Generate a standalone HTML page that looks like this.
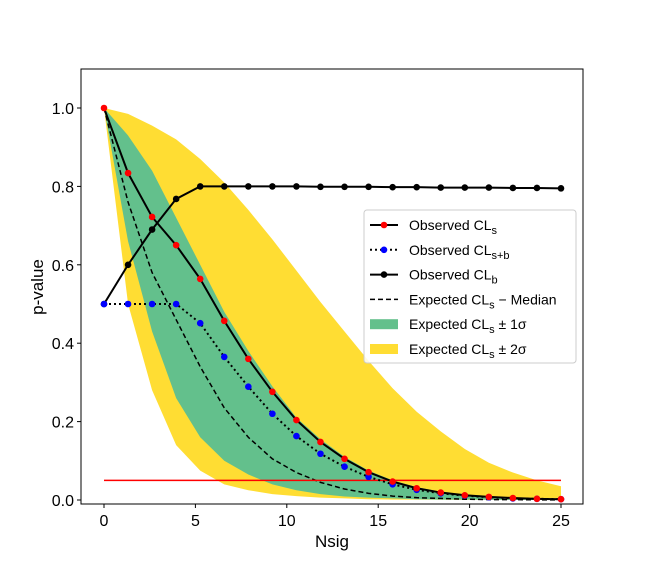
<!DOCTYPE html>
<html><head><meta charset="utf-8"><style>
body{margin:0;background:#fff}
text{font-family:"Liberation Sans","DejaVu Sans",sans-serif}
</style></head><body>
<svg id="chart" width="648" height="576" xmlns="http://www.w3.org/2000/svg"></svg>
<script>
const nsig = [0,1.316,2.632,3.947,5.263,6.579,7.895,9.211,10.526,11.842,13.158,14.474,15.789,17.105,18.421,19.737,21.053,22.368,23.684,25];
const obsCLs = [1.0,0.834,0.722,0.650,0.564,0.457,0.360,0.276,0.204,0.148,0.105,0.071,0.047,0.030,0.019,0.012,0.008,0.005,0.003,0.002];
const obsCLsb = [0.5,0.5,0.5,0.5,0.451,0.365,0.289,0.220,0.163,0.118,0.085,0.059,0.040,0.026,0.017,0.011,0.007,0.004,0.003,0.002];
const obsCLb = [0.5,0.6,0.69,0.768,0.8,0.8,0.8,0.8,0.8,0.799,0.799,0.799,0.798,0.798,0.797,0.797,0.797,0.796,0.796,0.795];
const expMed = [1.0,0.76,0.58,0.46,0.34,0.235,0.16,0.105,0.07,0.045,0.028,0.017,0.01,0.006,0.004,0.002,0.001,0.001,0.0005,0.0003];
const band1Up = [1.0,0.93,0.84,0.72,0.60,0.48,0.38,0.29,0.21,0.155,0.11,0.075,0.05,0.033,0.021,0.013,0.008,0.005,0.003,0.002];
const band1Lo = [1.0,0.66,0.43,0.26,0.16,0.10,0.065,0.04,0.025,0.015,0.009,0.006,0.004,0.002,0.001,0.001,0.0005,0.0003,0.0002,0.0001];
const band2Up = [1.0,0.985,0.955,0.92,0.87,0.81,0.74,0.665,0.585,0.505,0.43,0.355,0.285,0.225,0.175,0.13,0.095,0.07,0.05,0.035];
const band2Lo = [1.0,0.50,0.28,0.14,0.075,0.04,0.025,0.015,0.01,0.006,0.004,0.002,0.001,0.001,0.0005,0.0003,0.0002,0.0001,0.0001,0.0001];
const xTicks = [0,5,10,15,20,25];
const yTicks = [0.0,0.2,0.4,0.6,0.8,1.0];
const threshold = 0.05;

const svg = document.getElementById('chart');
const NS = 'http://www.w3.org/2000/svg';
const X = v => 104 + v*(561-104)/25;
const Y = v => 500 - v*392;
function mk(tag, attrs, parent){const e=document.createElementNS(NS,tag);for(const k in attrs)e.setAttribute(k,attrs[k]);(parent||svg).appendChild(e);return e;}
const pts = arr => arr.map((v,i)=>X(nsig[i])+','+Y(v)).join(' ');
const bandPts = (up,lo)=>pts(up)+' '+lo.map((v,i)=>X(nsig[i])+','+Y(v)).reverse().join(' ');

let e;
e = mk('polygon',{points:bandPts(band2Up,band2Lo),fill:'#ffdd33'});


e = mk('polygon',{points:bandPts(band1Up,band1Lo),fill:'#63c08c'});


e = mk('polyline',{points:pts(expMed),fill:'none',stroke:'#000','stroke-width':1.5,'stroke-dasharray':'5,3'});


e = mk('line',{x1:X(0),x2:X(25),y1:Y(threshold),y2:Y(threshold),stroke:'#ff0000','stroke-width':1.5});



function series(arr,color,dash,name){
  const l = mk('polyline',{points:pts(arr),fill:'none',stroke:'#000','stroke-width':2});
  if(dash) l.setAttribute('stroke-dasharray',dash);
  
  
  arr.forEach((v,i)=>{
    const c = mk('circle',{cx:X(nsig[i]),cy:Y(v),r:3.3,fill:color});
    
    
  });
}
series(obsCLb,'#000',null,'observed-clb');
series(obsCLsb,'#0000ff','2,3','observed-clsb');
series(obsCLs,'#ff0000',null,'observed-cls');

e = mk('rect',{x:81,y:69,width:502,height:435,fill:'none',stroke:'#000','stroke-width':1});



xTicks.forEach(t=>{
  mk('line',{x1:X(t),x2:X(t),y1:504,y2:508,stroke:'#000'});
  const tx = mk('text',{x:X(t),y:526,'text-anchor':'middle','font-size':16});
  tx.textContent=t;
  
  
});
yTicks.forEach(t=>{
  mk('line',{x1:77,x2:81,y1:Y(t),y2:Y(t),stroke:'#000'});
  const tx = mk('text',{x:74,y:Y(t)+6,'text-anchor':'end','font-size':16});
  tx.textContent=t.toFixed(1);
  
  
});
e = mk('text',{x:332,y:547,'text-anchor':'middle','font-size':17});
e.textContent='Nsig';


e = mk('text',{x:43,y:287,'text-anchor':'middle','font-size':17,transform:'rotate(-90 43 287)'});
e.textContent='p-value';



// legend
const lg = mk('g',{});


mk('rect',{x:364,y:210,width:212,height:153,rx:3,fill:'#fff','fill-opacity':0.85,stroke:'#ccc'},lg);
const entries = [
 {t:'Observed CL<tspan font-size="11" dy="4">s</tspan>',type:'line',c:'#ff0000',d:null},
 {t:'Observed CL<tspan font-size="11" dy="4">s+b</tspan>',type:'line',c:'#0000ff',d:'2,3'},
 {t:'Observed CL<tspan font-size="11" dy="4">b</tspan>',type:'line',c:'#000',d:null},
 {t:'Expected CL<tspan font-size="11" dy="4">s</tspan><tspan dy="-4"> − Median</tspan>',type:'dash'},
 {t:'Expected CL<tspan font-size="11" dy="4">s</tspan><tspan dy="-4"> ± 1σ</tspan>',type:'box',c:'#63c08c'},
 {t:'Expected CL<tspan font-size="11" dy="4">s</tspan><tspan dy="-4"> ± 2σ</tspan>',type:'box',c:'#ffdd33'}
];
entries.forEach((en,i)=>{
  const y = 225 + i*24.8;
  const g = mk('g',{},lg);
  
  
  if(en.type==='line'){
    const l=mk('line',{x1:370,x2:398,y1:y,y2:y,stroke:'#000','stroke-width':2},g);
    if(en.d) l.setAttribute('stroke-dasharray',en.d);
    mk('circle',{cx:384,cy:y,r:3.3,fill:en.c},g);
  } else if(en.type==='dash'){
    mk('line',{x1:370,x2:398,y1:y,y2:y,stroke:'#000','stroke-width':1.5,'stroke-dasharray':'5,3'},g);
  } else {
    mk('rect',{x:370,y:y-5,width:28,height:10,fill:en.c},g);
  }
  const tx = mk('text',{x:409,y:y+5,'font-size':14},g);
  tx.innerHTML = en.t;
});
</script>
</body></html>
